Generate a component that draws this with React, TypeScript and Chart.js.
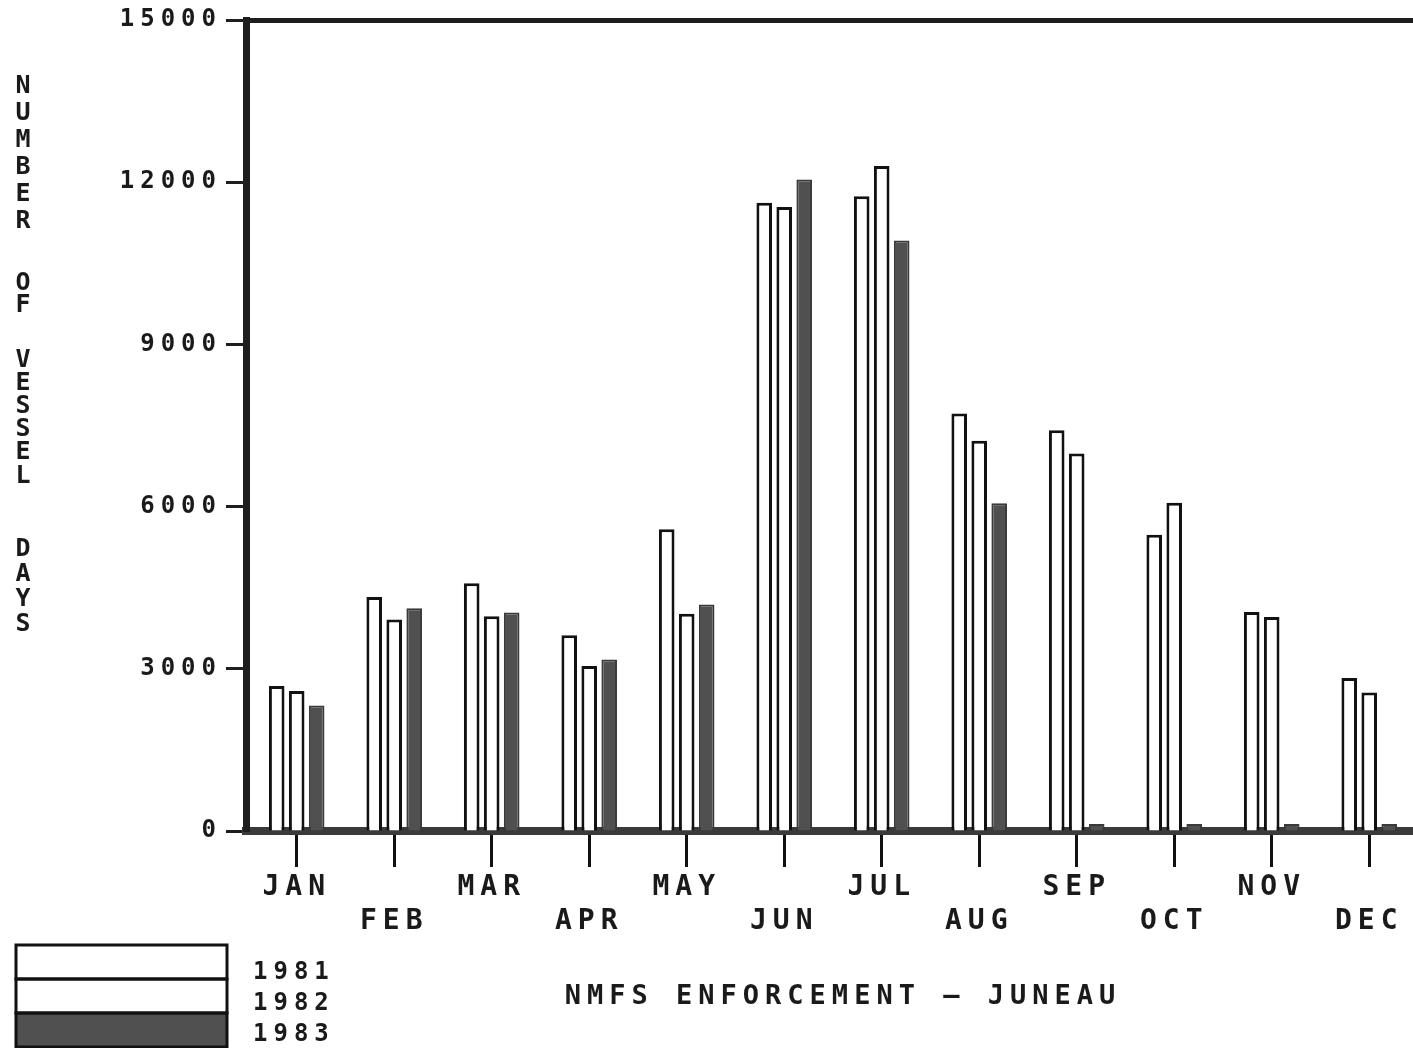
import React, { useEffect, useRef } from 'react';
import { Chart, registerables } from 'chart.js';

Chart.register(...registerables);

const MONTHS = ['JAN', 'FEB', 'MAR', 'APR', 'MAY', 'JUN', 'JUL', 'AUG', 'SEP', 'OCT', 'NOV', 'DEC'];
const YEARS = ['1981', '1982', '1983'];
const DAYS_1981 = [2680, 4330, 4580, 3620, 5580, 11620, 11740, 7720, 7410, 5480, 4050, 2830];
const DAYS_1982 = [2590, 3910, 3970, 3050, 4020, 11540, 12300, 7220, 6980, 6070, 3960, 2560];
const DAYS_1983 = [2320, 4120, 4040, 3170, 4190, 12050, 10920, 6060, 130, 130, 130, 130];
const Y_MIN = 0;
const Y_MAX = 15000;
const Y_STEP = 3000;
const TITLE = 'NMFS ENFORCEMENT – JUNEAU';
const Y_TITLE_WORDS = ['NUMBER', 'OF', 'VESSEL', 'DAYS'];

const CANVAS_W = 1440;
const CANVAS_H = 1048;
const FONT = '"DejaVu Sans Mono"';
const SPACING = '6px';
const X_SPACING = '4.5px';

const spacingPlugin = {
  id: 'letterSpacing',
  beforeLayout(chart: any) {
    chart.ctx.letterSpacing = SPACING;
  },
  beforeDraw(chart: any) {
    chart.ctx.letterSpacing = SPACING;
  },
  afterDatasetsDraw(chart: any) {
    // x axis (z: 1) is drawn after the datasets
    chart.ctx.letterSpacing = X_SPACING;
  },
};

const decorPlugin = {
  id: 'decor',
  afterDraw(chart: any) {
    const ctx = chart.ctx as CanvasRenderingContext2D;
    ctx.save();
    // stacked vertical axis title
    (ctx as any).letterSpacing = '0px';
    ctx.fillStyle = '#1a1a1a';
    ctx.font = 'bold 25px ' + FONT;
    ctx.textAlign = 'center';
    ctx.textBaseline = 'middle';
    const wordLayout = [
      { y: 86, pitch: 27 },
      { y: 283, pitch: 22 },
      { y: 360, pitch: 23.2 },
      { y: 549, pitch: 25.2 },
    ];
    Y_TITLE_WORDS.forEach((w, wi) => {
      Array.from(w).forEach((ch, ci) => {
        ctx.fillText(ch, 23, wordLayout[wi].y + ci * wordLayout[wi].pitch);
      });
    });

    // legend: stacked boxes
    const ds = chart.data.datasets;
    const boxLeft = 16;
    const boxW = 211;
    const boxTop = 945;
    const boxH = 34;
    ds.forEach((d: any, i: number) => {
      ctx.fillStyle = d.backgroundColor;
      ctx.fillRect(boxLeft, boxTop + i * boxH, boxW, boxH);
    });
    ctx.strokeStyle = '#111';
    ctx.lineWidth = 3;
    ds.forEach((d: any, i: number) => {
      ctx.strokeRect(boxLeft, boxTop + i * boxH, boxW, boxH);
    });
    (ctx as any).letterSpacing = SPACING;
    ctx.fillStyle = '#1a1a1a';
    ctx.font = 'bold 24px ' + FONT;
    ctx.textAlign = 'left';
    ds.forEach((d: any, i: number) => {
      ctx.fillText(d.label, 253, 973 + i * 31);
    });
    ctx.restore();
  },
};

export default function App() {
  const canvasRef = useRef<HTMLCanvasElement | null>(null);

  useEffect(() => {
    const canvas = canvasRef.current;
    if (!canvas) return;
    const series = [DAYS_1981, DAYS_1982, DAYS_1983];
    const fills = ['#ffffff', '#ffffff', '#505050'];
    const borders = ['#111111', '#111111', '#3a3a3a'];
    const widths = [3, 3, 2];
    const chart = new Chart(canvas, {
      type: 'bar',
      data: {
        datasets: series.map((vals, si) => ({
          label: YEARS[si],
          data: vals.map((v, i) => ({ x: i, y: v })),
          backgroundColor: fills[si],
          borderColor: borders[si],
          borderWidth: widths[si],
          barPercentage: 0.78,
          categoryPercentage: 0.615,
        })),
      },
      options: {
        responsive: false,
        animation: false,
        devicePixelRatio: 1,
        layout: { padding: { top: 20, left: 0, right: 0, bottom: 34.6 } },
        plugins: {
          legend: { display: false },
          tooltip: { enabled: false },
          title: {
            display: true,
            text: TITLE,
            position: 'bottom',
            fullSize: false,
            color: '#1a1a1a',
            font: { family: FONT, size: 27, weight: 'bold', lineHeight: 1.2 },
            padding: { top: 42, bottom: 0 },
          },
        },
        scales: {
          x: {
            type: 'linear',
            min: -0.52,
            max: 11.726,
            offset: false,
            bounds: 'data',
            z: 1,
            afterBuildTicks: (scale: any) => {
              scale.ticks = MONTHS.map((_, i) => ({ value: i }));
            },
            afterFit: (scale: any) => {
              scale.height = 108;
            },
            grid: {
              offset: false,
              drawOnChartArea: false,
              drawTicks: true,
              tickLength: 36,
              tickWidth: 3,
              tickColor: '#111',
              color: '#111',
            },
            border: { display: true, width: 8, color: '#3a3a3a' },
            ticks: {
              autoSkip: false,
              maxRotation: 0,
              minRotation: 0,
              padding: 4,
              color: '#1a1a1a',
              font: { family: FONT, size: 28, weight: 'bold', lineHeight: 34 / 28 },
              callback: (value: any) => {
                const i = Math.round(Number(value));
                const m = MONTHS[i];
                return i % 2 === 1 ? ['', m] : m;
              },
            },
          },
          y: {
            min: Y_MIN,
            max: Y_MAX,
            afterFit: (scale: any) => {
              scale.width = 246;
            },
            grid: {
              drawOnChartArea: true,
              drawTicks: true,
              tickLength: 20,
              tickWidth: 3,
              tickColor: '#1e1e1e',
              color: (c: any) => (c.tick && c.tick.value === Y_MAX ? '#1e1e1e' : 'rgba(0,0,0,0)'),
              lineWidth: (c: any) => (c.tick && c.tick.value === Y_MAX ? 5 : 1),
            },
            border: { display: true, width: 7, color: '#1e1e1e' },
            ticks: {
              stepSize: Y_STEP,
              padding: 4,
              color: '#1a1a1a',
              font: { family: FONT, size: 24, weight: 'bold' },
              callback: (value: any) => String(value),
            },
          },
        },
      },
      plugins: [spacingPlugin, decorPlugin],
    } as any);
    return () => {
      chart.destroy();
    };
  }, []);

  return (
    <div
      style={{
        position: 'fixed',
        left: 0,
        top: 0,
        width: 1413,
        height: 1048,
        overflow: 'hidden',
        background: '#fff',
      }}
    >
      <canvas
        ref={canvasRef}
        width={CANVAS_W}
        height={CANVAS_H}
        style={{ position: 'absolute', left: 0, top: 0, width: CANVAS_W, height: CANVAS_H }}
      />
    </div>
  );
}
